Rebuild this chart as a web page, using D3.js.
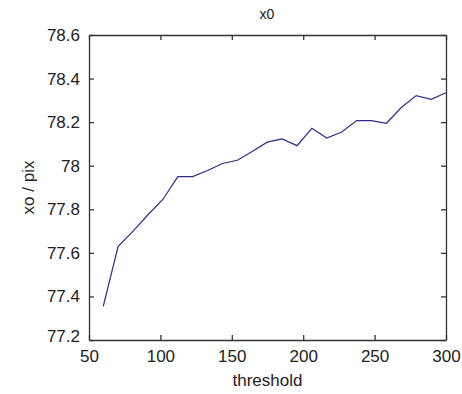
<!DOCTYPE html>
<html>
<head>
<meta charset="utf-8">
<script src="https://cdn.jsdelivr.net/npm/d3@7"></script>
<style>
  html, body { margin: 0; padding: 0; background: #fff; }
  svg { display: block; }
  text { font-family: "Liberation Sans", Arial, sans-serif; fill: #222; }
</style>
</head>
<body>
<svg id="chart" width="462" height="394"></svg>
<script>
// threshold values and the measured x0 position at each
const thresholds = [60, 70.4, 80.9, 91.3, 101.7, 112.2, 122.6, 133, 143.5, 153.9, 164.3, 174.8,
                    185.2, 195.7, 206.1, 216.5, 227, 237.4, 247.8, 258.3, 268.7, 279.1, 289.6, 300];
const x0Values = [77.355, 77.63, 77.70, 77.775, 77.845, 77.95, 77.95, 77.978, 78.01, 78.025, 78.065, 78.108,
                  78.123, 78.092, 78.172, 78.127, 78.155, 78.207, 78.207, 78.195, 78.267, 78.322, 78.305, 78.335];
const xTicks = [50, 100, 150, 200, 250, 300];
const yTicks = [77.2, 77.4, 77.6, 77.8, 78, 78.2, 78.4, 78.6];

const margin = { left: 89, right: 16, top: 35, bottom: 54 };
const W = 462, H = 394;
const svg = d3.select("#chart");

const x = d3.scaleLinear().domain([50, 300]).range([margin.left, W - margin.right]);
const y = d3.scaleLinear().domain([77.2, 78.6]).range([H - margin.bottom, margin.top]);

const fmt = d => d3.format("")(+d.toFixed(1));
const tickLen = 5;

// bottom axis with labels
const gB = svg.append("g").attr("transform", `translate(0,${y(77.2)})`)
  .call(d3.axisBottom(x).tickValues(xTicks).tickSizeInner(-tickLen).tickSizeOuter(0).tickPadding(5 + tickLen).tickFormat(d3.format("d")));
// left axis with labels
const gL = svg.append("g").attr("transform", `translate(${x(50)},0)`)
  .call(d3.axisLeft(y).tickValues(yTicks).tickSizeInner(-tickLen).tickSizeOuter(0).tickPadding(4 + tickLen).tickFormat(fmt));
// top and right axes, ticks only
const gT = svg.append("g").attr("transform", `translate(0,${y(78.6)})`)
  .call(d3.axisTop(x).tickValues(xTicks).tickSizeInner(-tickLen).tickSizeOuter(0).tickFormat(""));
const gR = svg.append("g").attr("transform", `translate(${x(300)},0)`)
  .call(d3.axisRight(y).tickValues(yTicks).tickSizeInner(-tickLen).tickSizeOuter(0).tickFormat(""));

[gB, gL, gT, gR].forEach(g => {
  g.selectAll(".domain").attr("stroke", "#333").attr("stroke-width", 1.3);
  g.selectAll(".tick line").attr("stroke", "#333").attr("stroke-width", 1.3);
  g.selectAll(".tick text").attr("font-size", 17).attr("fill", "#222")
    .attr("font-family", "'Liberation Sans', Arial, sans-serif");
});
// the lowest y label sits a little above its tick
gL.selectAll(".tick text").filter(d => d === 77.2).attr("dy", "0.1em");

// data line
const line = d3.line().x((d, i) => x(thresholds[i])).y(d => y(d));
svg.append("path")
  .datum(x0Values)
  .attr("d", line)
  .attr("fill", "none")
  .attr("stroke", "#2e2e8a")
  .attr("stroke-width", 1.2);

// title and axis labels
svg.append("text").attr("x", 267).attr("y", 19).attr("text-anchor", "middle")
  .attr("font-size", 14).text("x0");
svg.append("text").attr("x", x(175)).attr("y", 386).attr("text-anchor", "middle")
  .attr("font-size", 17).text("threshold");
svg.append("text").attr("transform", `translate(34,${(y(77.2) + y(78.6)) / 2}) rotate(-90)`)
  .attr("text-anchor", "middle").attr("font-size", 17).text("xo / pix");
</script>
</body>
</html>
